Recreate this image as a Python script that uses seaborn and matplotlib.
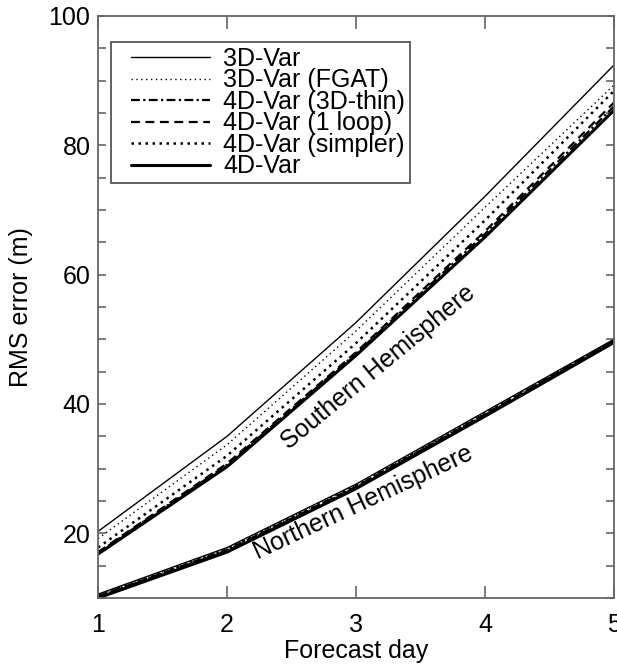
import numpy as np
import pandas as pd
import matplotlib
matplotlib.use("Agg")
import matplotlib.pyplot as plt
import matplotlib.ticker as mticker
from matplotlib.lines import Line2D
from matplotlib.legend_handler import HandlerLine2D
import seaborn as sns

# forecast days
days = [1, 2, 3, 4, 5]

# scheme names (legend order)
schemes = ["3D-Var", "3D-Var (FGAT)", "4D-Var (3D-thin)", "4D-Var (1 loop)",
           "4D-Var (simpler)", "4D-Var"]

# Southern Hemisphere RMS error (m)
sh_3dvar = [20.3, 35.0, 52.6, 72.1, 92.4]
sh_fgat = [19.2, 33.7, 51.3, 70.4, 89.3]
sh_3dthin = [17.0, 30.6, 47.8, 66.3, 86.0]
sh_1loop = [17.1, 30.8, 48.0, 66.7, 86.6]
sh_simpler = [17.8, 32.0, 49.4, 68.4, 88.4]
sh_4dvar = [16.8, 30.3, 47.5, 65.8, 85.4]

# Northern Hemisphere RMS error (m)
nh_3dvar = [10.6, 17.8, 27.6, 38.8, 50.0]
nh_fgat = [10.4, 17.6, 27.4, 38.6, 49.9]
nh_3dthin = [10.2, 17.3, 27.1, 38.3, 49.7]
nh_1loop = [10.3, 17.4, 27.2, 38.4, 49.8]
nh_simpler = [10.3, 17.5, 27.3, 38.5, 49.8]
nh_4dvar = [10.0, 17.1, 26.9, 38.1, 49.5]

sh_values = [sh_3dvar, sh_fgat, sh_3dthin, sh_1loop, sh_simpler, sh_4dvar]
nh_values = [nh_3dvar, nh_fgat, nh_3dthin, nh_1loop, nh_simpler, nh_4dvar]

# line styles per scheme
styles = {
    "3D-Var": dict(ls="-", lw=1.0),
    "3D-Var (FGAT)": dict(ls=(0, (1, 2.5)), lw=1.0),
    "4D-Var (3D-thin)": dict(ls=(0, (4, 1.5, 1, 1.5)), lw=1.6),
    "4D-Var (1 loop)": dict(ls=(0, (4, 2.5)), lw=1.6),
    "4D-Var (simpler)": dict(ls=(0, (1, 1.8)), lw=1.8),
    "4D-Var": dict(ls="-", lw=2.2),
}

FS = 18

sns.set_style("ticks")
plt.rcParams["font.family"] = ["Liberation Sans", "DejaVu Sans"]
plt.rcParams["font.size"] = FS
plt.rcParams["text.color"] = "black"
plt.rcParams["axes.labelcolor"] = "black"
plt.rcParams["xtick.labelcolor"] = "black"
plt.rcParams["ytick.labelcolor"] = "black"

fig = plt.figure(figsize=(6.17, 6.64), dpi=100)
ax = fig.add_axes([0.159, 0.0994, 0.836, 0.8766])

for name, sh, nh in zip(schemes, sh_values, nh_values):
    st = styles[name]
    df_s = pd.DataFrame({"day": days, "rms": sh})
    df_n = pd.DataFrame({"day": days, "rms": nh})
    sns.lineplot(data=df_s, x="day", y="rms", ax=ax, color="black",
                 linestyle=st["ls"], linewidth=st["lw"], label=name)
    sns.lineplot(data=df_n, x="day", y="rms", ax=ax, color="black",
                 linestyle=st["ls"], linewidth=st["lw"], legend=False)

ax.set_xlim(1, 5)
ax.set_ylim(10, 100)
ax.xaxis.set_major_locator(mticker.MultipleLocator(1))
ax.yaxis.set_major_locator(mticker.MultipleLocator(20))
ax.yaxis.set_minor_locator(mticker.MultipleLocator(5))

ax.tick_params(axis="x", which="major", direction="in", length=9, width=1.2,
               color="#666666", top=True, pad=10.5, labelsize=FS,
               labelcolor="black")
ax.tick_params(axis="y", which="both", direction="in", length=6, width=1.2,
               color="#666666", right=True, pad=5.5, labelsize=FS,
               labelcolor="black")
for sp in ax.spines.values():
    sp.set_color("#666666")
    sp.set_linewidth(1.3)

ax.set_xlabel("Forecast day", fontsize=FS, labelpad=2, color="black")
ax.set_ylabel("RMS error (m)", fontsize=FS, labelpad=11, color="black")

ax.text(3.21, 44.8, "Southern Hemisphere", rotation=39.5, rotation_mode="anchor",
        ha="center", va="baseline", fontsize=FS, color="black")
ax.text(3.08, 23.7, "Northern Hemisphere", rotation=25.0, rotation_mode="anchor",
        ha="center", va="baseline", fontsize=FS, color="black")

leg = ax.legend(loc="upper left", bbox_to_anchor=(0.0252, 0.9553), fontsize=FS,
                frameon=True, fancybox=False, handlelength=3.76,
                labelspacing=-0.1, borderpad=0.2, handletextpad=0.52,
                borderaxespad=0,
                handler_map={Line2D: HandlerLine2D(xpad=0.6)})
leg.get_frame().set_edgecolor("#555555")
leg.get_frame().set_linewidth(1.3)
leg.get_frame().set_alpha(1)
for t in leg.get_texts():
    t.set_color("black")

fig.savefig("out.png", dpi=100)
